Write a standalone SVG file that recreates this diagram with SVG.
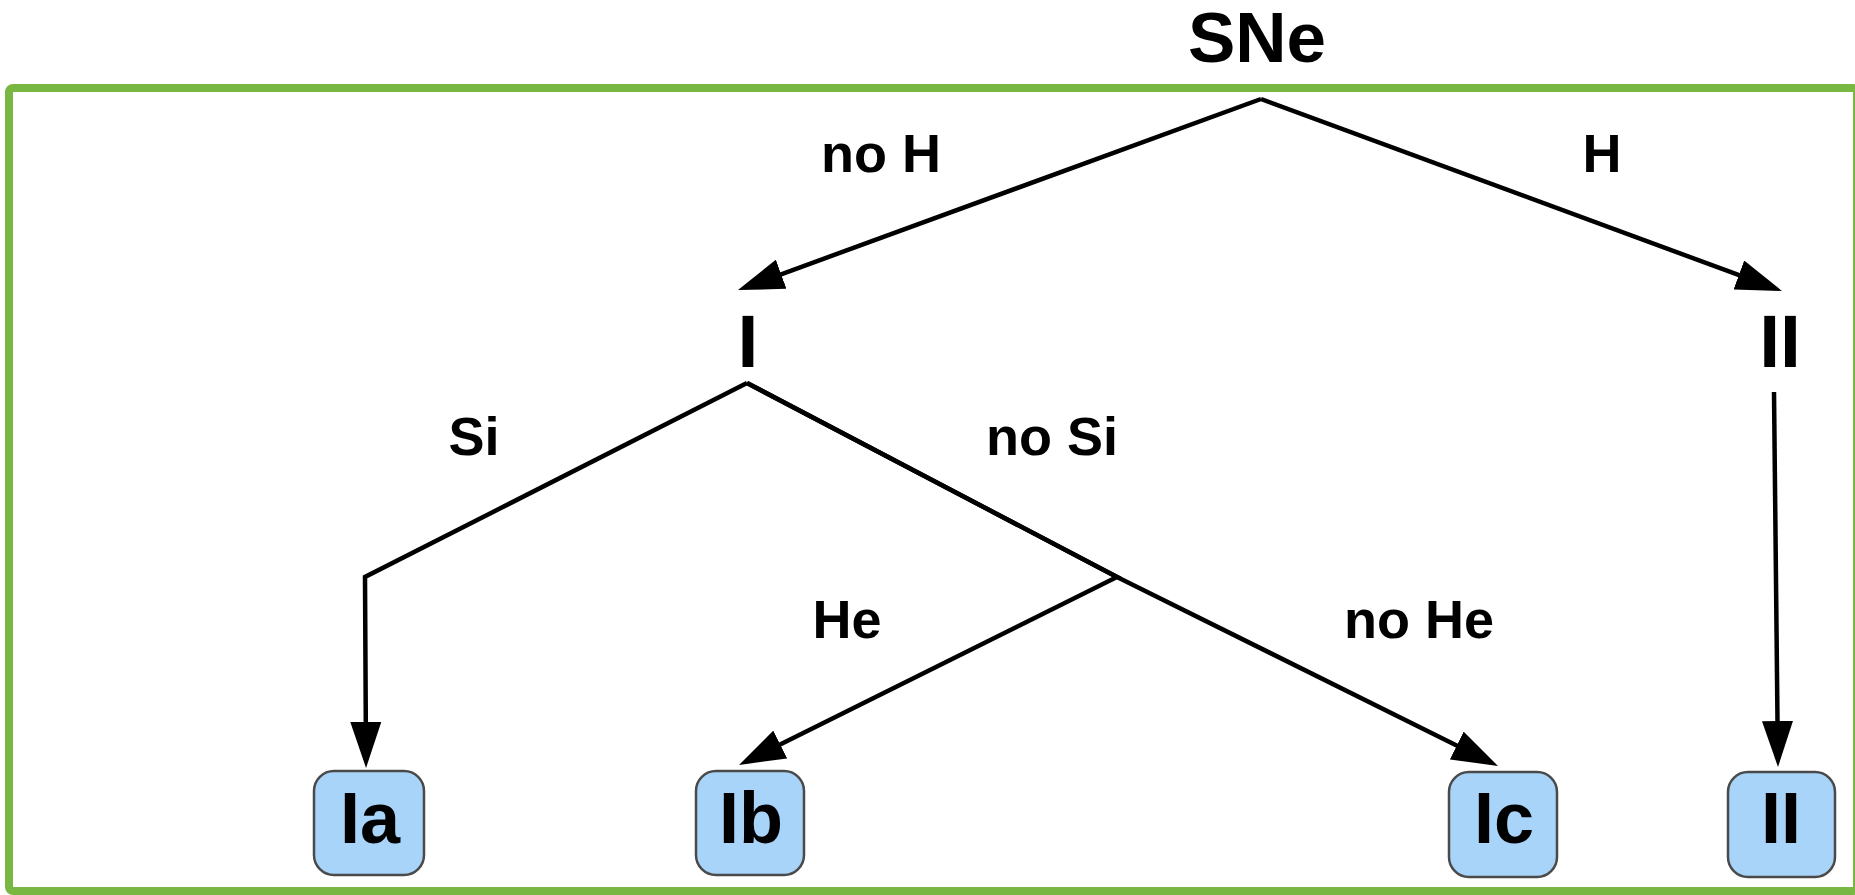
<svg xmlns="http://www.w3.org/2000/svg" width="1855" height="895" viewBox="0 0 1855 895">
<style>
  .lbl { font-family: "Liberation Sans", Arial, sans-serif; font-weight: bold; fill: #000; text-anchor: middle; }
  .edge { fill: none; stroke: #000; stroke-width: 4.5; stroke-linejoin: miter; marker-end: url(#arrow); }
  .box { fill: #a8d4fa; stroke: #4a4a4a; stroke-width: 2.5; }
</style>
<defs>
  <marker id="arrow" viewBox="0 0 46 31" refX="38" refY="15.5" markerWidth="46" markerHeight="31" markerUnits="userSpaceOnUse" orient="auto">
    <path d="M0,0 L46,15.5 L0,31 z" fill="#000"/>
  </marker>
</defs>
<rect x="0" y="0" width="1855" height="895" fill="#fff"/>
<rect id="frame" x="9" y="88" width="1848" height="803" rx="4" fill="none" stroke="#79b743" stroke-width="8"/>

<g id="connectors">
  <path class="edge" d="M1261,99 L745.5,287.3"/>
  <path class="edge" d="M1261,99 L1774.5,288.2"/>
  <path class="edge" d="M747,383 L365,577 L366,760"/>
  <path class="edge" d="M747,383 L1117,577 L746.2,761.4"/>
  <path class="edge" d="M747,383 L1117,577 L1490.8,762.4"/>
  <path class="edge" d="M1774,392 L1777.9,759"/>
  <text class="lbl" x="881" y="172" font-size="54">no H</text>
  <text class="lbl" x="1602" y="172" font-size="54">H</text>
  <text class="lbl" x="474" y="455" font-size="54">Si</text>
  <text class="lbl" x="1052" y="455" font-size="54">no Si</text>
  <text class="lbl" x="847" y="638" font-size="54">He</text>
  <text class="lbl" x="1419" y="638" font-size="54">no He</text>
</g>

<g id="node-SNe">
  <text class="lbl" x="1257" y="62" font-size="71">SNe</text>
</g>
<g id="node-I">
  <text class="lbl" x="748" y="367" font-size="75">I</text>
</g>
<g id="node-II-top">
  <text class="lbl" x="1780" y="367" font-size="75">II</text>
</g>
<g id="node-Ia">
  <rect class="box" x="314" y="771" width="110" height="104" rx="20"/>
  <text class="lbl" x="370" y="843" font-size="72">Ia</text>
</g>
<g id="node-Ib">
  <rect class="box" x="696" y="771" width="108" height="104" rx="20"/>
  <text class="lbl" x="751" y="843" font-size="72">Ib</text>
</g>
<g id="node-Ic">
  <rect class="box" x="1449" y="772" width="108" height="105" rx="20"/>
  <text class="lbl" x="1504" y="843" font-size="72">Ic</text>
</g>
<g id="node-II">
  <rect class="box" x="1728" y="772" width="107" height="105" rx="20"/>
  <text class="lbl" x="1781" y="843" font-size="72">II</text>
</g>
</svg>
